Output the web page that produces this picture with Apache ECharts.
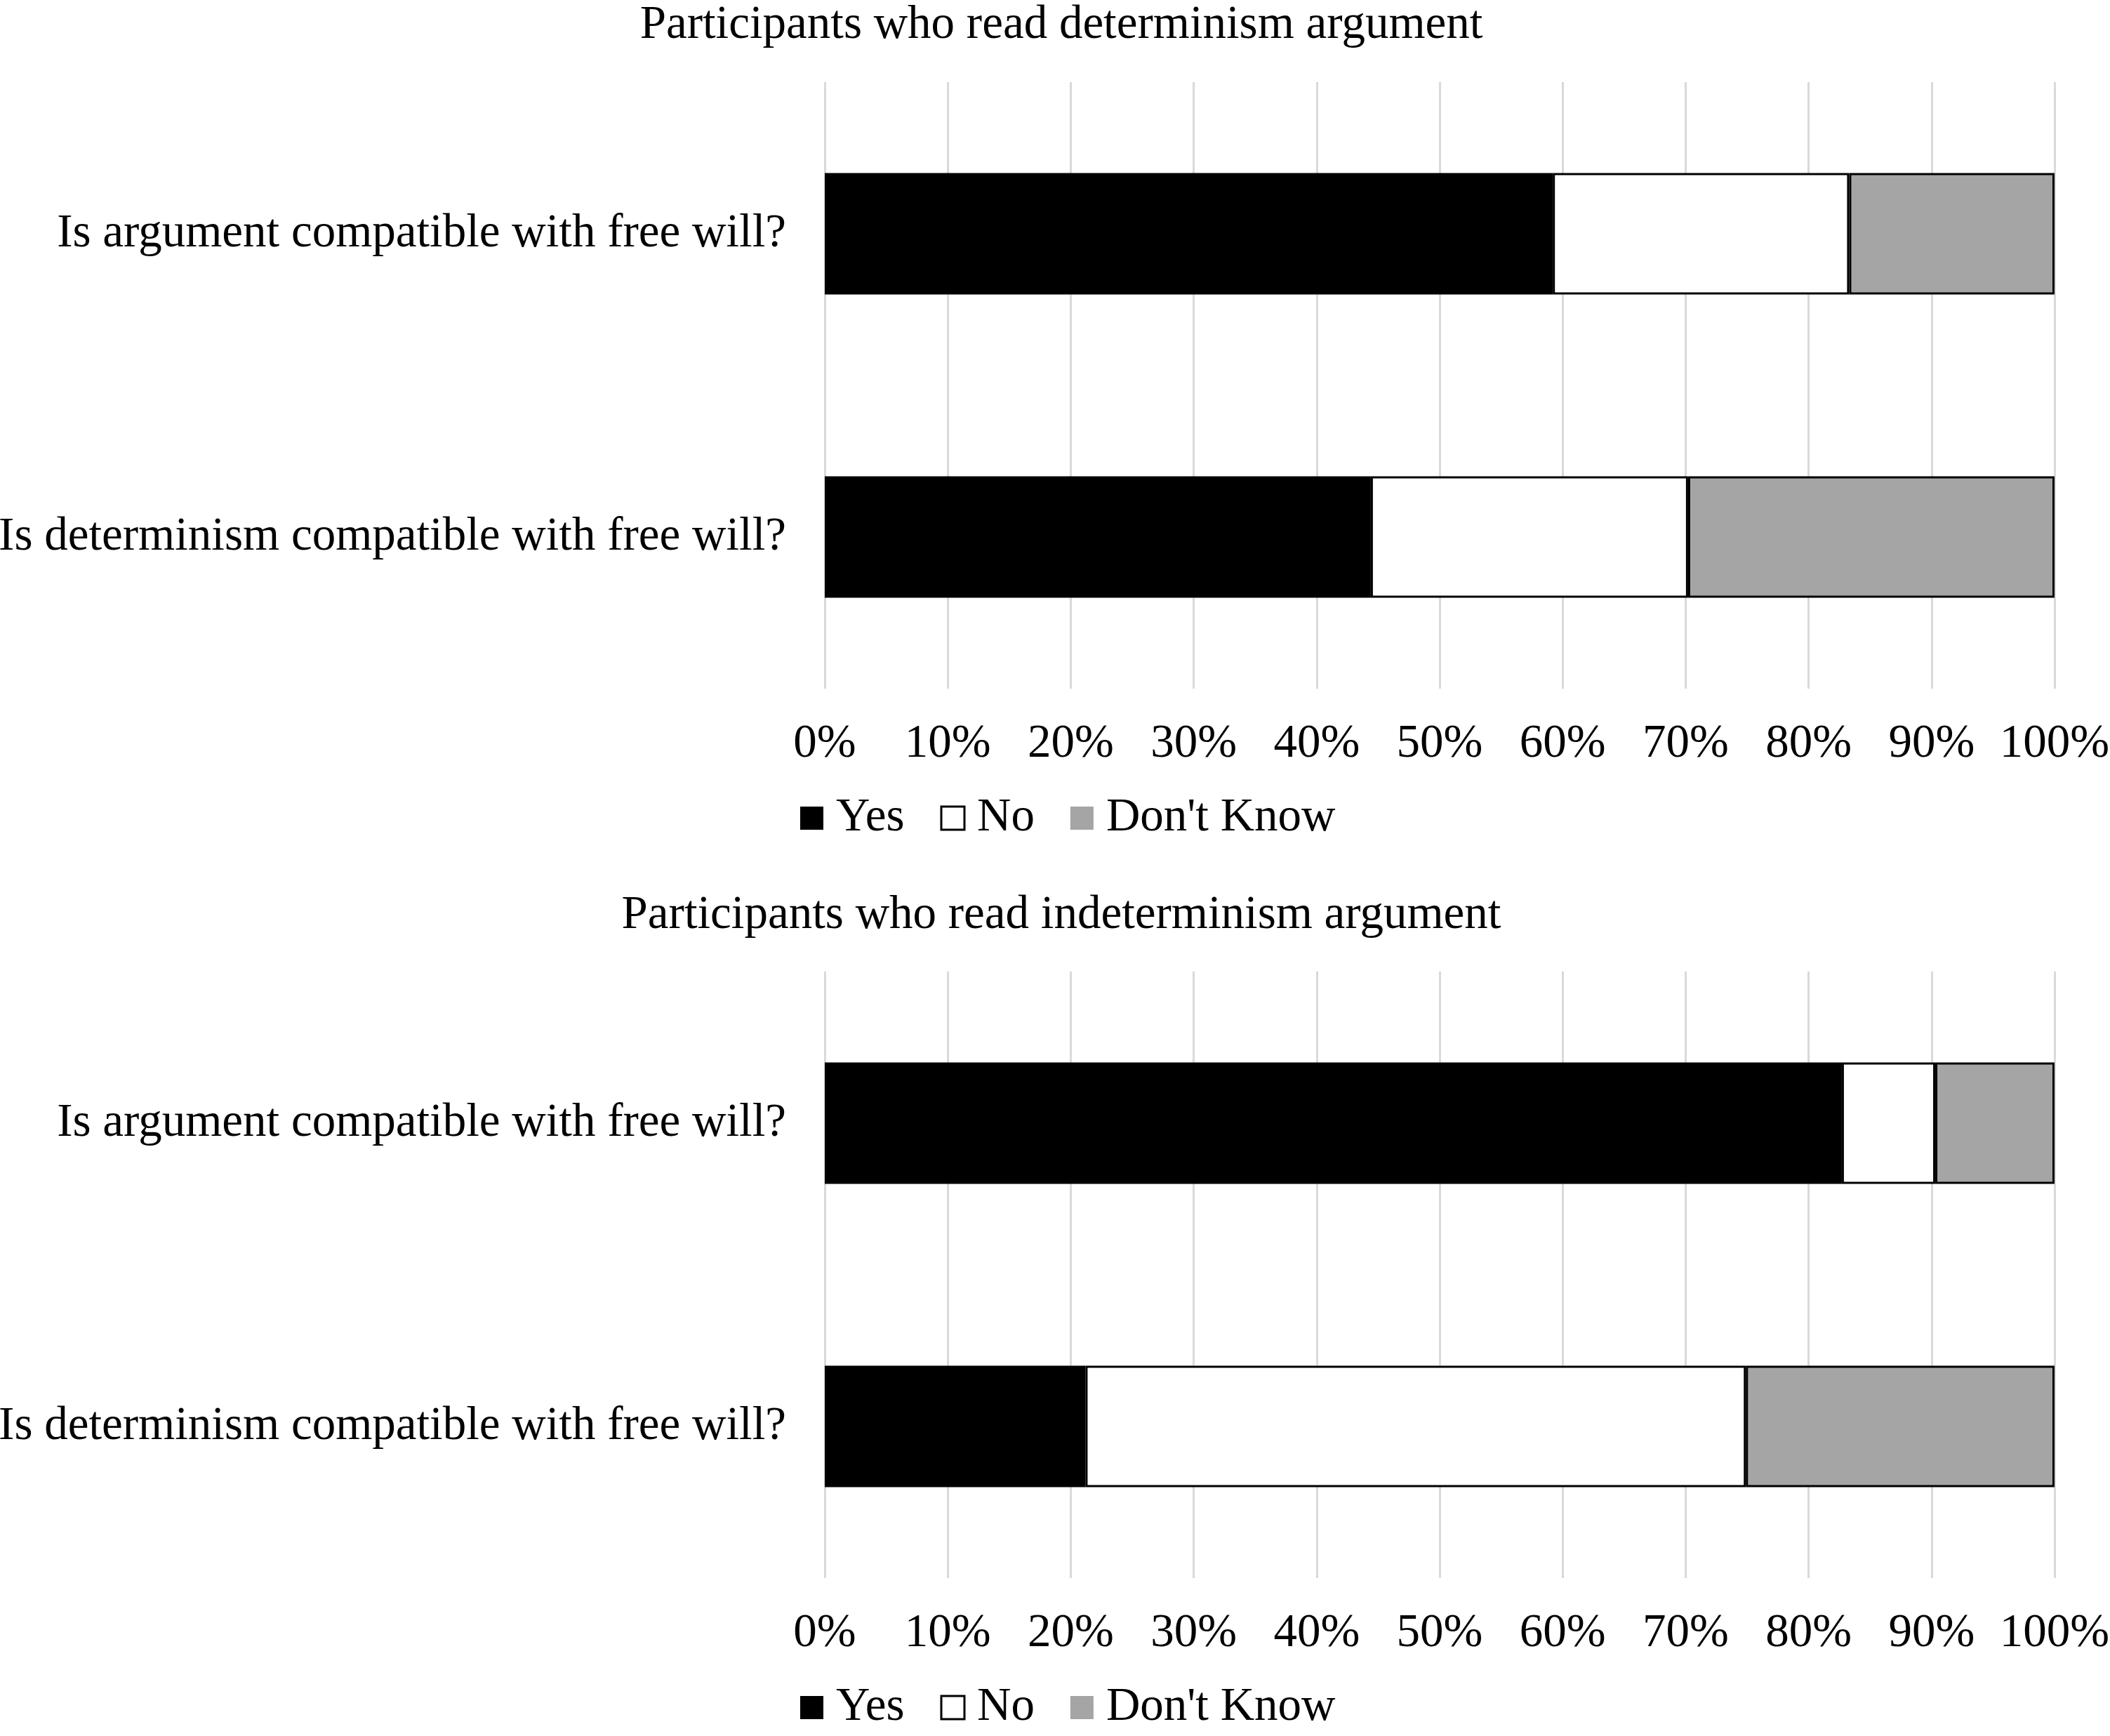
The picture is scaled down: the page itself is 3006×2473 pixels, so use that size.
<!DOCTYPE html>
<html>
<head>
<meta charset="utf-8">
<script src="https://cdn.jsdelivr.net/npm/echarts@6/dist/echarts.min.js"></script>
<style>
html,body{margin:0;padding:0;background:#fff;}
#chart{width:3006px;height:2473px;}
</style>
</head>
<body>
<div id="chart"></div>
<script>
const categories = ["Is argument compatible with free will?", "Is determinism compatible with free will?"];
const seriesNames = ["Yes", "No", "Don't Know"];
const titles = ["Participants who read determinism argument", "Participants who read indeterminism argument"];
// Panel 1: determinism argument
const detYes = [59.2, 44.4];
const detNo = [24.1, 25.8];
const detDK = [16.7, 29.8];
// Panel 2: indeterminism argument
const indYes = [82.7, 21.2];
const indNo = [7.6, 53.7];
const indDK = [9.7, 25.1];

const FONT = "'Liberation Serif', 'Times New Roman', serif";
const FS = 67;
const colors = { "Yes": "#000000", "No": "#ffffff", "Don't Know": "#a5a5a5" };

const gridTops = [117, 1384];
const gridH = 864;

function xAxis(i) {
  return {
    type: 'value', gridIndex: i, min: 0, max: 100, interval: 10,
    axisLabel: { formatter: '{value}%', fontFamily: FONT, fontSize: FS, color: '#000', margin: 46 },
    axisLine: { show: false }, axisTick: { show: false },
    splitLine: { show: true, lineStyle: { color: '#d9d9d9', width: 3 } }
  };
}
function yAxis(i) {
  return {
    type: 'category', gridIndex: i, data: categories, inverse: true,
    axisLabel: { fontFamily: FONT, fontSize: FS, color: '#000', margin: 55 },
    axisLine: { show: false }, axisTick: { show: false }, splitLine: { show: false }
  };
}
function mkSeries(name, data, idx) {
  return {
    name: name, type: 'bar', stack: 'p' + idx, xAxisIndex: idx, yAxisIndex: idx,
    data: data, barCategoryGap: '60%',
    itemStyle: {
      color: colors[name],
      borderColor: '#000',
      borderWidth: name === 'Yes' ? 0 : 3
    },
    emphasis: { disabled: true }
  };
}
function legend(top) {
  return {
    left: 1140, top: top, padding: 0, itemWidth: 33, itemHeight: 33, itemGap: 51,
    icon: 'rect', selectedMode: false,
    textStyle: { fontFamily: FONT, fontSize: FS, color: '#000', padding: [0, 0, 0, 13] },
    data: [
      { name: 'Yes', itemStyle: { color: '#000', borderWidth: 0 } },
      { name: 'No', itemStyle: { color: '#fff', borderColor: '#000', borderWidth: 3 } },
      { name: "Don't Know", itemStyle: { color: '#a5a5a5', borderWidth: 0 } }
    ]
  };
}

const chart = echarts.init(document.getElementById('chart'), null, { renderer: 'canvas' });
chart.setOption({
  backgroundColor: '#fff',
  animation: false,
  title: [
    { text: titles[0], left: 1512, textAlign: 'center', top: 3, padding: 0, textStyle: { fontFamily: FONT, fontSize: FS, fontWeight: 'normal', color: '#000' } },
    { text: titles[1], left: 1512, textAlign: 'center', top: 1271, padding: 0, textStyle: { fontFamily: FONT, fontSize: FS, fontWeight: 'normal', color: '#000' } }
  ],
  legend: [legend(1132), legend(2399)],
  grid: [
    { left: 1175, right: 79, top: gridTops[0], height: gridH, outerBoundsMode: 'none', containLabel: false },
    { left: 1175, right: 79, top: gridTops[1], height: gridH, outerBoundsMode: 'none', containLabel: false }
  ],
  xAxis: [xAxis(0), xAxis(1)],
  yAxis: [yAxis(0), yAxis(1)],
  series: [
    mkSeries('Yes', detYes, 0), mkSeries('No', detNo, 0), mkSeries("Don't Know", detDK, 0),
    mkSeries('Yes', indYes, 1), mkSeries('No', indNo, 1), mkSeries("Don't Know", indDK, 1)
  ]
});
</script>
</body>
</html>
